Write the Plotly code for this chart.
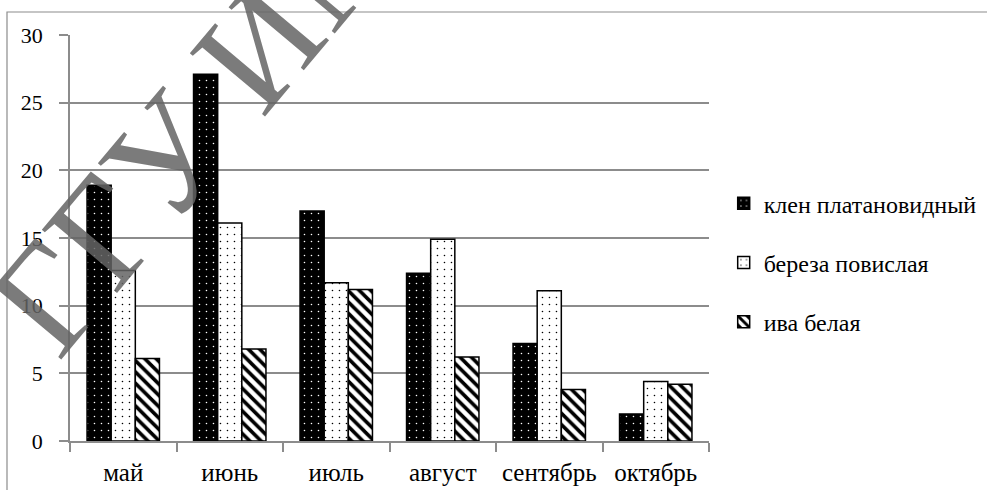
import plotly.graph_objects as go

# Monthly values for three tree species
months = ["май", "июнь", "июль", "август", "сентябрь", "октябрь"]
klen = [18.9, 27.1, 17.0, 12.4, 7.2, 2.0]
bereza = [12.6, 16.1, 11.7, 14.9, 11.1, 4.4]
iva = [6.1, 6.8, 11.2, 6.2, 3.8, 4.2]
series_names = ["клен платановидный", "береза повислая", "ива белая"]
y_ticks = [0, 5, 10, 15, 20, 25, 30]

FONT = "Liberation Serif"
GRID = "#8c8c8c"

fig = go.Figure()

patterns = [
    dict(shape=".", bgcolor="black", fgcolor="white", size=7, solidity=0.04, fillmode="replace"),
    dict(shape=".", bgcolor="white", fgcolor="black", size=7, solidity=0.04, fillmode="replace"),
    dict(shape="\\", bgcolor="white", fgcolor="black", size=8, solidity=0.45, fillmode="replace"),
]
for i, (name, vals) in enumerate(zip(series_names, [klen, bereza, iva])):
    fig.add_trace(go.Bar(
        x=months, y=vals, name=name, legendgroup=name,
        marker=dict(color="white" if i else "black", pattern=patterns[i],
                    line=dict(color="black", width=1.5)),
    ))

fig.update_layout(
    width=987, height=490,
    margin=dict(l=70, r=278, t=35, b=49, autoexpand=False),
    paper_bgcolor="white", plot_bgcolor="white",
    barmode="group", bargap=0.32, bargroupgap=0,
    font=dict(family=FONT, size=23, color="black"),
    showlegend=True,
    legend=dict(x=1.023, xanchor="left", y=0.64, yanchor="top",
                font=dict(family=FONT, size=24, color="black"),
                traceorder="grouped", tracegroupgap=25,
                bgcolor="rgba(0,0,0,0)", borderwidth=0),
    xaxis=dict(
        automargin=False,
        showgrid=False, showline=True, linecolor=GRID, linewidth=1.5,
        ticks="outside", tickson="boundaries", ticklen=9, tickcolor=GRID, tickwidth=1.5,
        tickfont=dict(family=FONT, size=25), ticklabelstandoff=8,
    ),
    yaxis=dict(
        automargin=False,
        range=[0, 30], tickvals=y_ticks,
        showgrid=True, gridcolor=GRID, gridwidth=1.5,
        showline=True, linecolor=GRID, linewidth=1.5,
        ticks="outside", ticklen=9, tickcolor=GRID, tickwidth=1.5,
        tickfont=dict(family=FONT, size=22), ticklabelstandoff=12,
        zeroline=False,
    ),
)

# chart frame, partly extending past the page edge
fig.add_shape(type="rect", xref="paper", yref="paper",
              x0=-0.0986, x1=1.6, y0=-0.3, y1=1.0567,
              line=dict(color=GRID, width=1.2), fillcolor="rgba(0,0,0,0)", layer="below")

# diagonal watermark
fig.add_annotation(text="ГГУ ИМЕНИ", xref="paper", yref="paper",
                   x=0.357, y=1.09, xanchor="center", yanchor="middle",
                   showarrow=False, textangle=-50,
                   font=dict(family=FONT, size=150, color="rgba(100,100,100,0.85)"))

fig.write_html("out.html")
